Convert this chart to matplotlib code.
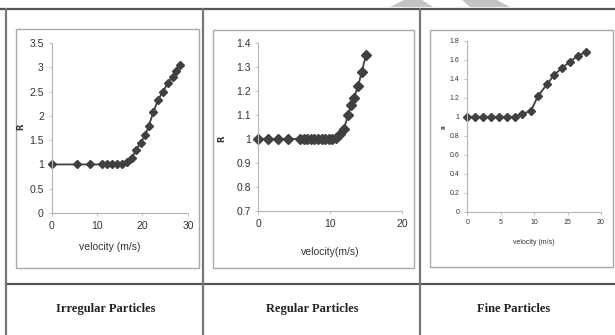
import matplotlib
matplotlib.use('Agg')
import matplotlib.pyplot as plt
from matplotlib.patches import Rectangle, Polygon
from matplotlib.lines import Line2D

# irregular particles
irr_v = [0, 5.6, 8.4, 11.2, 12.3, 13.4, 14.5, 15.6, 16.6, 17.6, 18.6, 19.6,
         20.6, 21.4, 22.4, 23.4, 24.5, 25.6, 26.6, 27.4, 28.2]
irr_r = [1, 1, 1, 1, 1, 1, 1, 1, 1.05, 1.13, 1.3, 1.45,
         1.6, 1.8, 2.08, 2.33, 2.5, 2.68, 2.8, 2.92, 3.05]

# regular particles
reg_v = [0, 1.4, 2.8, 4.2, 5.8, 6.3, 6.8, 7.3, 7.8, 8.3, 8.8, 9.3, 9.8,
         10.3, 10.8, 11.4, 11.9, 12.5, 12.9, 13.3, 13.9, 14.4, 15.0]
reg_r = [1, 1, 1, 1, 1, 1, 1, 1, 1, 1, 1, 1, 1,
         1, 1.005, 1.02, 1.04, 1.1, 1.14, 1.17, 1.22, 1.28, 1.35]

# fine particles
fine_v = [0, 1.15, 2.3, 3.5, 4.7, 5.9, 7.1, 8.2, 9.5, 10.6, 11.9, 13.0,
          14.1, 15.4, 16.5, 17.7]
fine_r = [1, 1, 1, 1, 1, 1, 1, 1.03, 1.06, 1.22, 1.34, 1.44,
          1.51, 1.58, 1.64, 1.68]

titles = ['Irregular Particles', 'Regular Particles', 'Fine Particles']

W, H = 615, 335
fig = plt.figure(figsize=(W / 100, H / 100), dpi=100)
fig.patch.set_facecolor('white')

narrow = ['Liberation Sans Narrow', 'Liberation Sans', 'DejaVu Sans']


def px_rect(l, t, r, b):
    return [l / W, 1 - b / H, (r - l) / W, (b - t) / H]


def frame(l, t, r, b):
    fig.patches.append(Rectangle((l / W, 1 - b / H), (r - l) / W, (b - t) / H,
                                 transform=fig.transFigure, fill=False,
                                 edgecolor='#a8a8a8', linewidth=1.0))


def hline(y, x0, x1, lw=1.6, c='#555555'):
    fig.add_artist(Line2D([x0 / W, x1 / W], [1 - y / H, 1 - y / H],
                          transform=fig.transFigure, color=c, linewidth=lw))


def vline(x, y0, y1, lw=1.6, c='#777777'):
    fig.add_artist(Line2D([x / W, x / W], [1 - y0 / H, 1 - y1 / H],
                          transform=fig.transFigure, color=c, linewidth=lw))


def chart(rect, xs, ys, xlim, ylim, xticks, yticks, ylabels, xlabel,
          fs, ms, lx, ly, ry):
    ax = fig.add_axes(rect)
    ax.plot(xs, ys, color='#404040', linewidth=1.3, marker='D',
            markersize=ms, markerfacecolor='#404040', markeredgecolor='#404040',
            clip_on=False)
    ax.set_xlim(*xlim)
    ax.set_ylim(*ylim)
    ax.set_xticks(xticks)
    ax.set_yticks(yticks)
    ax.set_yticklabels(ylabels)
    for s in ['top', 'right']:
        ax.spines[s].set_visible(False)
    for s in ['left', 'bottom']:
        ax.spines[s].set_color('#b5b5b5')
        ax.spines[s].set_linewidth(0.8)
    ax.tick_params(length=2.5, width=0.6, color='#b5b5b5', labelsize=fs,
                   labelcolor='#333333', pad=3)
    for lab in ax.get_xticklabels() + ax.get_yticklabels():
        lab.set_family(narrow)
    fig.text(lx / W, 1 - ly / H, xlabel, ha='center', va='center',
             fontsize=fs, color='#333333', family=narrow)
    fig.text(ry[0] / W, 1 - ry[1] / H, 'R', ha='center', va='center',
             fontsize=fs - 1.5, rotation=90, fontweight='bold', color='#333333')
    return ax


# table lines
hline(9, 0, W)
hline(284, 6, W)
for x in [6, 203, 420]:
    vline(x, 9, H)

# faint watermark pieces above the table
for pts in [[(390, 7), (433, 7), (422, 0), (404, 0)],
            [(470, 7), (510, 7), (497, 0), (462, 0)]]:
    fig.patches.append(Polygon([(x / W, 1 - y / H) for x, y in pts],
                               closed=True, transform=fig.transFigure,
                               facecolor='#c4c4c4', edgecolor='none',
                               zorder=0))

# inner chart frames
frame(16, 29, 199, 268)
frame(213, 30, 414, 268)
frame(430, 30, 613, 267)

chart(px_rect(51.5, 43, 188, 213), irr_v, irr_r, (0, 30), (0, 3.5),
      [0, 10, 20, 30], [0, 0.5, 1, 1.5, 2, 2.5, 3, 3.5],
      ['0', '0.5', '1', '1.5', '2', '2.5', '3', '3.5'],
      'velocity (m/s)', 7.5, 4.5, 110, 247, (21, 127))

chart(px_rect(258.3, 42.7, 402, 211), reg_v, reg_r, (0, 20), (0.7, 1.4),
      [0, 10, 20], [0.7, 0.8, 0.9, 1.0, 1.1, 1.2, 1.3, 1.4],
      ['0.7', '0.8', '0.9', '1', '1.1', '1.2', '1.3', '1.4'],
      'velocity(m/s)', 7.5, 5, 330, 252, (222, 139))

chart(px_rect(467.3, 40.7, 601, 211.7), fine_v, fine_r, (0, 20), (0, 1.8),
      [0, 5, 10, 15, 20], [0, 0.2, 0.4, 0.6, 0.8, 1, 1.2, 1.4, 1.6, 1.8],
      ['0', '0.2', '0.4', '0.6', '0.8', '1', '1.2', '1.4', '1.6', '1.8'],
      'velocity (m/s)', 5, 4, 534, 243, (444, 127))

# row captions
for x, t in zip([106, 312, 514], titles):
    fig.text(x / W, 1 - 309 / H, t, ha='center', va='center', fontsize=9,
             fontweight='bold', color='#222222',
             family=['Liberation Serif', 'DejaVu Serif'])

fig.savefig('out.png', dpi=100, facecolor='white')
